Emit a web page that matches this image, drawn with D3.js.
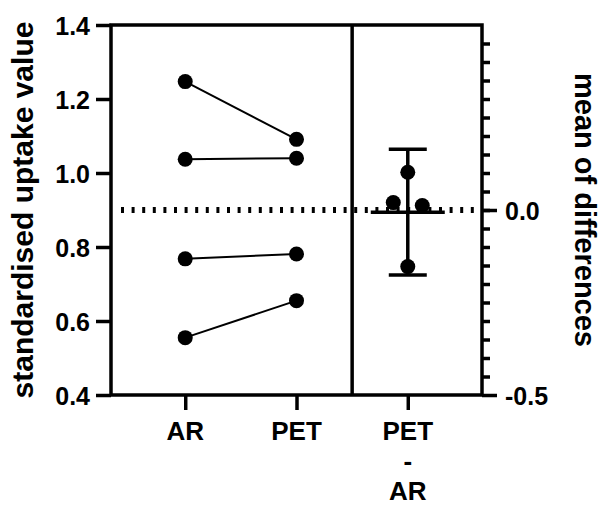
<!DOCTYPE html>
<html>
<head>
<meta charset="utf-8">
<script src="https://cdn.jsdelivr.net/npm/d3@7"></script>
<style>
  body { margin: 0; background: #fff; }
  text { font-family: "Liberation Sans", Arial, sans-serif; font-weight: bold; fill: #000; }
</style>
</head>
<body>
<div id="chart"></div>
<script>
// values
const categories = ['AR', 'PET', 'PET-AR'];
const arValues = [1.247, 1.037, 0.768, 0.555];
const petValues = [1.091, 1.040, 0.781, 0.655];
const differences = [0.102, 0.020, 0.012, -0.153];
const meanDiff = -0.006;
const ciLow = -0.176;
const ciHigh = 0.164;
const leftTicks = [0.4, 0.6, 0.8, 1.0, 1.2, 1.4];
const rightMajorTicks = [-0.5, 0.0];
const rightMinorTicks = d3.range(-0.45, 0.46, 0.05);

const width = 602, height = 507;
const margin = { top: 25, right: 120, bottom: 112, left: 111 };

const svg = d3.select('#chart')
    .append('svg')
    .attr('width', width)
    .attr('height', height);

const x = d3.scalePoint()
    .domain(categories)
    .range([margin.left, width - margin.right])
    .padding(0.667);

const yLeft = d3.scaleLinear()
    .domain([0.4, 1.4])
    .range([height - margin.bottom, margin.top]);

const yRight = d3.scaleLinear()
    .domain([-0.5, 0.5])
    .range([height - margin.bottom, margin.top]);

const plotRight = width - margin.right;
const plotBottom = height - margin.bottom;
const divider = (x('PET') + x('PET-AR')) / 2;
const fmt = d => d.toFixed(1);

// left axis
const leftAxis = svg.append('g')
    .attr('class', 'y-axis')
    .attr('transform', `translate(${margin.left},0)`)
    .call(d3.axisLeft(yLeft).tickValues(leftTicks).tickFormat(fmt).tickSize(15).tickPadding(6));
leftAxis.select('.domain').remove();
leftAxis.selectAll('line').attr('stroke-width', 3.5);
leftAxis.selectAll('text').style('font-size', '25px').attr('dy', '0.36em');

// right axis: minor ticks then major ticks
const rightMinor = svg.append('g')
    .attr('transform', `translate(${plotRight},0)`)
    .call(d3.axisRight(yRight).tickValues(rightMinorTicks).tickFormat('').tickSize(8));
rightMinor.select('.domain').remove();
rightMinor.selectAll('line').attr('stroke-width', 3.5);

const rightAxis = svg.append('g')
    .attr('class', 'y-axis-right')
    .attr('transform', `translate(${plotRight},0)`)
    .call(d3.axisRight(yRight).tickValues(rightMajorTicks).tickFormat(fmt).tickSize(15).tickPadding(8));
rightAxis.select('.domain').remove();
rightAxis.selectAll('line').attr('stroke-width', 3.5);
rightAxis.selectAll('text').style('font-size', '25px').attr('dy', '0.36em');

// x axis
const xAxis = svg.append('g')
    .attr('class', 'x-axis')
    .attr('transform', `translate(0,${plotBottom})`)
    .call(d3.axisBottom(x).tickSize(15).tickFormat(''));
xAxis.select('.domain').remove();
xAxis.selectAll('line').attr('stroke-width', 3.5);

const xLabels = svg.append('g');
x.domain().forEach(c => {
    const lines = c === 'PET-AR' ? ['PET', '-', 'AR'] : [c];
    lines.forEach((t, i) => {
        xLabels.append('text')
            .attr('x', x(c))
            .attr('y', plotBottom + 45 + i * 30)
            .attr('text-anchor', 'middle')
            .style('font-size', '26px')
            .text(t);
    });
});

// frame
const frame = svg.append('g')
    .attr('stroke', '#000')
    .attr('stroke-width', 3.5)
    .attr('fill', 'none');
frame.append('rect')
    .attr('x', margin.left)
    .attr('y', margin.top)
    .attr('width', plotRight - margin.left)
    .attr('height', plotBottom - margin.top);
frame.append('line')
    .attr('x1', divider).attr('x2', divider)
    .attr('y1', margin.top).attr('y2', plotBottom);

// zero line of the differences axis
svg.append('line')
    .attr('x1', margin.left + 10)
    .attr('x2', plotRight)
    .attr('y1', yRight(0))
    .attr('y2', yRight(0))
    .attr('stroke', '#000')
    .attr('stroke-width', 6)
    .attr('stroke-dasharray', '3,7.6');

// paired lines
const pairs = arValues.map((v, i) => ({ ar: v, pet: petValues[i] }));
svg.selectAll('.pair-line')
    .data(pairs)
    .enter()
    .append('line')
    .attr('class', 'pair-line')
    .attr('x1', x('AR'))
    .attr('x2', x('PET'))
    .attr('y1', d => yLeft(d.ar))
    .attr('y2', d => yLeft(d.pet))
    .attr('stroke', '#000')
    .attr('stroke-width', 2);

const r = 7.5;
svg.selectAll('.ar-dot')
    .data(arValues)
    .enter()
    .append('circle')
    .attr('cx', x('AR'))
    .attr('cy', d => yLeft(d))
    .attr('r', r);
svg.selectAll('.pet-dot')
    .data(petValues)
    .enter()
    .append('circle')
    .attr('cx', x('PET'))
    .attr('cy', d => yLeft(d))
    .attr('r', r);

// differences panel
const cx = x('PET-AR');
const jitter = [0, -1, 1, 0];
const err = svg.append('g').attr('stroke', '#000').attr('stroke-width', 3.5);
err.append('line')
    .attr('x1', cx).attr('x2', cx)
    .attr('y1', yRight(ciHigh)).attr('y2', yRight(ciLow));
err.append('line')
    .attr('x1', cx - 19).attr('x2', cx + 19)
    .attr('y1', yRight(ciHigh)).attr('y2', yRight(ciHigh));
err.append('line')
    .attr('x1', cx - 19).attr('x2', cx + 19)
    .attr('y1', yRight(ciLow)).attr('y2', yRight(ciLow));
err.append('line')
    .attr('x1', cx - 37).attr('x2', cx + 37)
    .attr('y1', yRight(meanDiff)).attr('y2', yRight(meanDiff));

svg.selectAll('.diff-dot')
    .data(differences)
    .enter()
    .append('circle')
    .attr('cx', (d, i) => cx + jitter[i] * 14.5)
    .attr('cy', d => yRight(d))
    .attr('r', r);

// axis titles
const midY = (margin.top + plotBottom) / 2;
svg.append('text')
    .attr('transform', `translate(33,${midY}) rotate(-90)`)
    .attr('text-anchor', 'middle')
    .style('font-size', '30px')
    .text('standardised uptake value');

svg.append('text')
    .attr('transform', `translate(575,${midY}) rotate(90)`)
    .attr('text-anchor', 'middle')
    .style('font-size', '29px')
    .text('mean of differences');
</script>
</body>
</html>
